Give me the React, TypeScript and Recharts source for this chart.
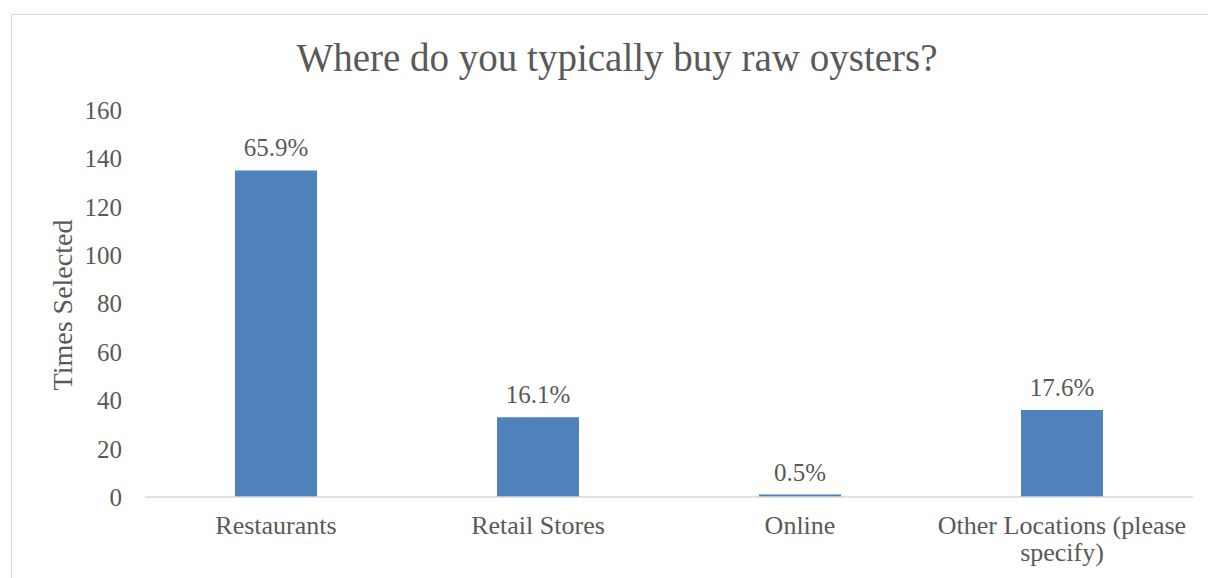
import React from 'react';
import { BarChart, Bar, XAxis, YAxis, LabelList } from 'recharts';

const categories = ['Restaurants', 'Retail Stores', 'Online', 'Other Locations (please specify)'];
const timesSelected = [135, 33, 1, 36];
const percentLabels = ['65.9%', '16.1%', '0.5%', '17.6%'];
const yTicks = [0, 20, 40, 60, 80, 100, 120, 140, 160];

const FONT = '"Liberation Serif", "Times New Roman", serif';
const TEXT_COLOR = '#595959';

const data = categories.map((name, i) => ({
  name,
  value: timesSelected[i],
  pct: percentLabels[i],
}));

// break long names into lines of at most ~24 chars, like the Excel original
const wrapLabel = (label: string, maxChars = 24) => {
  const words = label.split(' ');
  const lines: string[] = [];
  let cur = '';
  words.forEach((w) => {
    const next = cur ? cur + ' ' + w : w;
    if (next.length > maxChars && cur) {
      lines.push(cur);
      cur = w;
    } else {
      cur = next;
    }
  });
  if (cur) lines.push(cur);
  return lines;
};

const CategoryTick = (props: any) => {
  const { x, y, payload } = props;
  const lines = wrapLabel(String(payload.value));
  return (
    <text x={x} y={y} textAnchor="middle" fill={TEXT_COLOR} fontSize={26} fontFamily={FONT}>
      {lines.map((line, i) => (
        <tspan key={i} x={x} dy={i === 0 ? 0 : 27}>
          {line}
        </tspan>
      ))}
    </text>
  );
};

const App: React.FC = () => {
  return (
    <div style={{ position: 'absolute', left: 0, top: 0, width: 1208, height: 578, background: '#fff', overflow: 'hidden' }}>
      {/* chart frame */}
      <div
        style={{
          position: 'absolute',
          left: 11,
          top: 14,
          width: 1220,
          height: 600,
          border: '1px solid #d9d9d9',
        }}
      />
      <div style={{ position: 'absolute', left: 0, top: 0 }}>
        <BarChart
          width={1208}
          height={578}
          data={data}
          margin={{ top: 110, right: 15, bottom: 21, left: 0 }}
        >
          <XAxis
            dataKey="name"
            height={60}
            axisLine={{ stroke: '#d9d9d9', strokeWidth: 1.5 }}
            tickLine={false}
            tickMargin={31}
            interval={0}
            tick={<CategoryTick />}
          />
          <YAxis
            width={145}
            domain={[0, 160]}
            ticks={yTicks}
            axisLine={false}
            tickLine={false}
            tickMargin={17}
            tick={{ fill: TEXT_COLOR, fontSize: 25, fontFamily: FONT }}
          />
          <Bar dataKey="value" fill="#4f81bd" barSize={82} isAnimationActive={false}>
            <LabelList
              dataKey="pct"
              position="top"
              offset={14}
              fill={TEXT_COLOR}
              fontSize={25}
              fontFamily={FONT}
            />
          </Bar>
        </BarChart>
      </div>
      {/* title and axis label */}
      <svg
        width={1208}
        height={578}
        style={{ position: 'absolute', left: 0, top: 0, pointerEvents: 'none' }}
      >
        <text x={617} y={71} textAnchor="middle" fill={TEXT_COLOR} fontSize={39} fontFamily={FONT}>
          Where do you typically buy raw oysters?
        </text>
        <text
          x={72}
          y={305}
          transform="rotate(-90 72 305)"
          textAnchor="middle"
          fill={TEXT_COLOR}
          fontSize={28}
          fontFamily={FONT}
        >
          Times Selected
        </text>
      </svg>
    </div>
  );
};

export default App;
